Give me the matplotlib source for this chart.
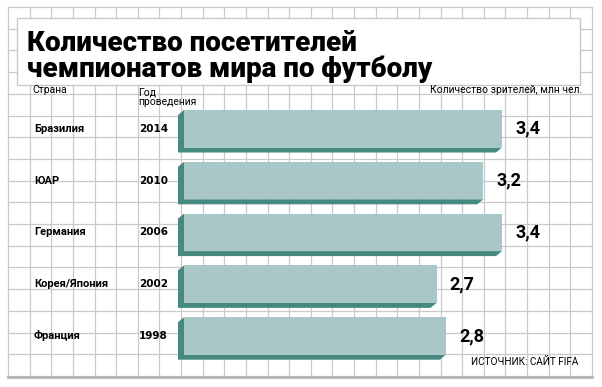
#!/usr/bin/env python3
import matplotlib
matplotlib.use('Agg')
import matplotlib.pyplot as plt
from matplotlib.patches import Polygon, Rectangle
from matplotlib.transforms import blended_transform_factory

countries = ['Бразилия', 'ЮАР', 'Германия', 'Корея/Япония', 'Франция']
years = ['2014', '2010', '2006', '2002', '1998']
viewers = [3.4, 3.2, 3.4, 2.7, 2.8]

title = 'Количество посетителей\nчемпионатов мира по футболу'
source = 'ИСТОЧНИК: САЙТ FIFA'

FACE = '#a8c7c6'
SIDE = '#458980'
GRID = '#c9c9c9'
SANS = ['Roboto', 'DejaVu Sans']


def main():
    fig = plt.figure(figsize=(6.02, 3.87), dpi=100)
    fig.patch.set_facecolor('white')

    # background graph paper, pixel coords
    bg = fig.add_axes([0, 0, 1, 1])
    bg.set_xlim(0, 602)
    bg.set_ylim(387, 0)
    bg.axis('off')
    step = (592 - 8) / 27
    for k in range(28):
        x = 8 + k * step
        bg.plot([x, x], [7, 376], color=GRID, lw=0.9, zorder=0)
    for k in range(18):
        y = 7 + k * (369 / 17)
        bg.plot([8, 592], [y, y], color=GRID, lw=0.9, zorder=0)
    bg.plot([8, 592], [376.5, 376.5], color='#b5b5b5', lw=2.0, zorder=1)

    # white title box
    bg.add_patch(Rectangle((16.5, 18), 563, 67, facecolor='white',
                           edgecolor=GRID, lw=1.0, zorder=2))
    bg.text(27, 30, title, fontsize=20, fontweight='black', va='top',
            ha='left', linespacing=0.95, color='black', zorder=3,
            family=SANS)

    bg.text(32, 90, 'Страна', fontsize=7.5, family=SANS, va='center')
    bg.text(138, 97, 'Год\nпроведения', fontsize=7.5, family=SANS,
            va='center', linespacing=0.9)
    bg.text(582, 90, 'Количество зрителей, млн чел.', fontsize=7.5,
            family=SANS, va='center', ha='right')
    bg.text(578, 362, source, fontsize=7.2, family=SANS, va='center',
            ha='right')

    # data axes over whole figure: 0 -> px 184, 3.4 -> px 502
    ppu = (502 - 184) / 3.4
    pitch = 51.8
    ax = fig.add_axes([0, 0, 1, 1])
    ax.patch.set_alpha(0)
    ax.set_xlim(-184 / ppu, (602 - 184) / ppu)
    ax.set_ylim((387 - 128.75) / pitch, -128.75 / pitch)
    ax.axis('off')

    h = 37.5 / pitch
    dx = 6 / ppu
    dy = 5 / pitch
    for i, v in enumerate(viewers):
        top = i - h / 2
        bot = i + h / 2
        side = Polygon([(0, top), (-dx, top + dy), (-dx, bot + dy),
                        (v - dx, bot + dy), (v, bot), (0, bot)],
                       closed=True, facecolor=SIDE, edgecolor='none',
                       zorder=3)
        ax.add_patch(side)
        ax.barh(i, v, height=h, left=0, color=FACE, zorder=4)
        ax.text(v + 13 / ppu, i, f'{v:.1f}'.replace('.', ','),
                fontsize=13, fontweight='bold', va='center', ha='left',
                family=SANS)

    tr = blended_transform_factory(bg.transData, ax.transData)
    for i, (c, y) in enumerate(zip(countries, years)):
        ax.text(34, i, c, transform=tr, fontsize=8, fontweight='bold',
                va='center', ha='left', family=SANS)
        ax.text(139, i, y, transform=tr, fontsize=7.5, fontweight='bold',
                va='center', ha='left', family='DejaVu Sans')

    fig.savefig('out.png', dpi=100)


if __name__ == '__main__':
    main()
